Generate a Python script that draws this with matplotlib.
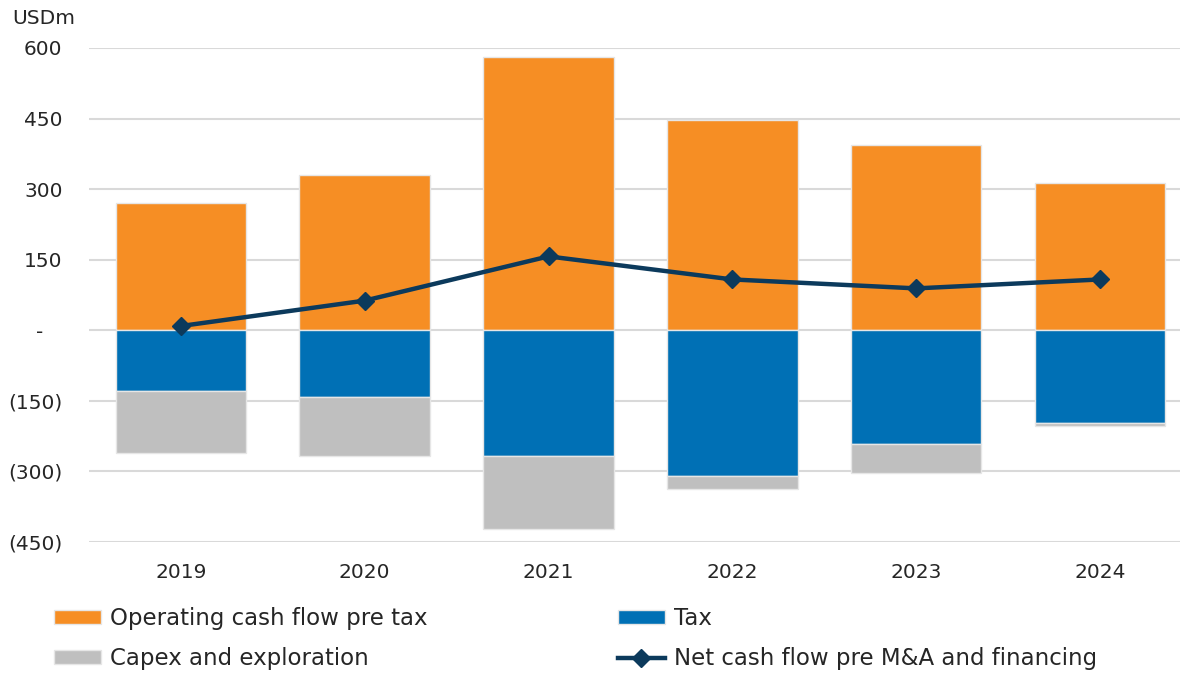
"""Cash flow bridge by year: operating cash flow, tax, capex and net cash flow."""

import matplotlib.pyplot as plt
import numpy as np
from matplotlib.ticker import FixedLocator, FixedFormatter

years = ["2019", "2020", "2021", "2022", "2023", "2024"]
operating_cf = [270, 331, 580, 446, 393, 312]
tax = [-130, -142, -268, -310, -242, -198]
capex = [-131, -126, -155, -28, -62, -6]
net_cf = [9, 63, 157, 108, 89, 108]

y_ticks = [-450, -300, -150, 0, 150, 300, 450, 600]
y_tick_labels = ["(450)", "(300)", "(150)", "-   ", "150", "300", "450", "600"]

ORANGE = "#F68E24"
BLUE = "#0070B5"
GREY = "#BFBFBF"
NAVY = "#0C3A5C"
TEXT = "#262626"

plt.rcParams["font.family"] = ["DejaVu Sans"]


def main():
    fig = plt.figure(figsize=(11.8, 6.73), dpi=100)
    ax = fig.add_axes([0.0754, 0.1947, 0.9246, 0.734])

    x = np.arange(len(years))
    w = 0.71
    edge = dict(edgecolor="#E6E6E6", linewidth=1.0)

    b_op = ax.bar(x, operating_cf, w, color=ORANGE, zorder=2, **edge)
    b_tax = ax.bar(x, tax, w, color=BLUE, zorder=2, **edge)
    b_cap = ax.bar(x, capex, w, bottom=tax, color=GREY, zorder=2, **edge)
    ln, = ax.plot(x, net_cf, color=NAVY, lw=3.2, marker="D", ms=9,
                  zorder=4)

    ax.set_xlim(-0.5, 5.435)
    ax.set_ylim(-450, 600)

    ax.yaxis.set_major_locator(FixedLocator(y_ticks))
    ax.yaxis.set_major_formatter(FixedFormatter(y_tick_labels))
    ax.set_xticks(x)
    ax.set_xticklabels(years)
    ax.tick_params(axis="both", length=0, labelsize=14.5, colors=TEXT)
    ax.tick_params(axis="y", pad=19)
    ax.tick_params(axis="x", pad=15)

    ax.grid(axis="y", color="#D9D9D9", lw=1.5, zorder=0)
    ax.set_axisbelow(True)
    for s in ax.spines.values():
        s.set_visible(False)

    fig.text(0.010, 0.972, "USDm", fontsize=14.5, color=TEXT, va="center")

    handles = [b_op, b_cap, b_tax, ln]
    labels = ["Operating cash flow pre tax", "Capex and exploration",
              "Tax", "Net cash flow pre M&A and financing"]
    fig.legend(handles, labels, ncol=2, loc="upper left",
               bbox_to_anchor=(0.0458, 0.098), frameon=False,
               borderpad=0, borderaxespad=0,
               fontsize=16.5, handlelength=2.05, handleheight=0.57,
               handletextpad=0.4, columnspacing=8.3, labelspacing=0.75,
               labelcolor=TEXT)

    fig.savefig("out.png", dpi=100)


if __name__ == "__main__":
    main()
